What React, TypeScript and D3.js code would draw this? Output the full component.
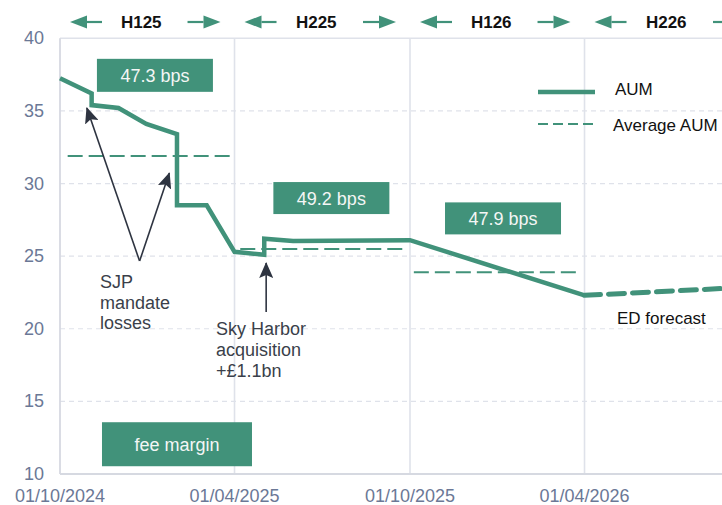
import React from "react";
import { scaleUtc, scaleLinear, line, utcFormat } from "d3";

// AUM (£bn) by date
const aumDates = [
  "2024-10-01", "2024-11-03", "2024-11-03", "2024-12-01", "2024-12-30",
  "2025-01-31", "2025-01-31", "2025-03-03", "2025-04-01", "2025-05-02",
  "2025-05-02", "2025-06-01", "2025-10-01", "2026-04-01",
];
const aumValues = [
  37.25, 36.2, 35.4, 35.2, 34.1, 33.4, 28.5, 28.5, 25.3, 25.1, 26.2, 26.05, 26.1, 22.3,
];

const forecastDates = ["2026-04-01", "2026-10-01"];
const forecastValues = [22.3, 22.9];

// average AUM per half year
const avgStarts = ["2024-10-09", "2025-04-07", "2025-10-05"];
const avgEnds = ["2025-03-28", "2025-09-26", "2026-03-24"];
const avgValues = [31.9, 25.5, 23.9];

// fee margin boxes (centre date / value)
const marginLabels = ["47.3 bps", "49.2 bps", "47.9 bps", "fee margin"];
const marginDates = ["2025-01-08", "2025-07-11", "2026-01-06", "2025-01-31"];
const marginValues = [37.45, 29.0, 27.6, 12.05];
const marginWidths = [116, 116, 116, 150];
const marginHeights = [33, 32, 32, 44];

const halves = ["H125", "H225", "H126", "H226"];
const halfStarts = ["2024-10-01", "2025-04-01", "2025-10-01", "2026-04-01"];
const halfEnds = ["2025-04-01", "2025-10-01", "2026-04-01", "2026-10-01"];

const xTicks = ["2024-10-01", "2025-04-01", "2025-10-01", "2026-04-01"];
const yTicks = [10, 15, 20, 25, 30, 35, 40];

const GREEN = "#41927a";
const DARK = "#2e3441";
const GRID = "#dfe2ea";
const TICK = "#6b7896";

const d = (s: string) => new Date(s + "T00:00:00Z");

const W = 722;
const H = 505;

const x = scaleUtc().domain([d("2024-10-01"), d("2026-10-01")]).range([60, 760]);
const y = scaleLinear().domain([10, 40]).range([474, 38.3]);

const pathGen = line<[Date, number]>()
  .x((p) => x(p[0]))
  .y((p) => y(p[1]));

const fmt = utcFormat("%d/%m/%Y");

const Arrow = ({ x1, x2, yy }: { x1: number; x2: number; yy: number }) => {
  // x2 is the tip
  const dir = x2 > x1 ? 1 : -1;
  const head = 17;
  const base = x2 - dir * head;
  return (
    <g>
      <line x1={x1} x2={base} y1={yy} y2={yy} stroke={GREEN} strokeWidth={2.2} />
      <path d={`M${x2},${yy} L${base},${yy - 6.5} L${base},${yy + 6.5} Z`} fill={GREEN} />
    </g>
  );
};

export default function App() {
  const aum = aumDates.map((s, i) => [d(s), aumValues[i]] as [Date, number]);
  const fc = forecastDates.map((s, i) => [d(s), forecastValues[i]] as [Date, number]);

  const sjpBase: [number, number] = [x(d("2024-12-23")), y(24.66)];
  const sjpTips: [number, number][] = [
    [x(d("2024-10-29")), y(35.2)],
    [x(d("2025-01-23")), y(30.72)],
  ];
  const skyX = x(d("2025-05-04"));

  return (
    <svg
      width={W}
      height={H}
      style={{ position: "absolute", left: 0, top: 0, fontFamily: "Liberation Sans, Arial, sans-serif" }}
    >
      <defs>
        <marker
          id="tip"
          viewBox="0 0 16 14"
          refX={15}
          refY={7}
          markerWidth={16}
          markerHeight={14}
          markerUnits="userSpaceOnUse"
          orient="auto"
        >
          <path d="M0,0 L16,7 L0,14 L3,7 Z" fill={DARK} />
        </marker>
      </defs>

      {/* grid */}
      {yTicks.slice(1, -1).map((t) => (
        <line key={t} x1={60} x2={W} y1={y(t)} y2={y(t)} stroke={GRID} strokeWidth={1.2} strokeDasharray="5,4" />
      ))}
      <line x1={60} x2={W} y1={y(40)} y2={y(40)} stroke={GRID} strokeWidth={1.5} />
      {xTicks.slice(1).map((t) => (
        <line key={t} x1={x(d(t))} x2={x(d(t))} y1={y(40)} y2={y(10)} stroke={GRID} strokeWidth={1.6} />
      ))}
      <line x1={60} x2={60} y1={y(40)} y2={y(10)} stroke="#d6d9e1" strokeWidth={1.8} />
      <line x1={60} x2={W} y1={y(10)} y2={y(10)} stroke="#d6d9e1" strokeWidth={2.2} />

      {/* ticks */}
      {yTicks.map((t) => (
        <text key={t} x={44} y={y(t) + 6} textAnchor="end" fontSize={18} fill={TICK}>
          {t}
        </text>
      ))}
      {xTicks.map((t) => (
        <text key={t} x={x(d(t))} y={502} textAnchor="middle" fontSize={18} fill={TICK}>
          {fmt(d(t))}
        </text>
      ))}

      {/* half-year headers */}
      {halves.map((h, i) => {
        const x0 = x(d(halfStarts[i]));
        const x1 = x(d(halfEnds[i]));
        return (
          <g key={h}>
            <Arrow x1={x0 + 42} x2={x0 + 10} yy={22} />
            <Arrow x1={x1 - 47} x2={x1 - 14} yy={22} />
            <text x={(x0 + x1) / 2 - 6} y={28} textAnchor="middle" fontSize={17} fontWeight="bold" fill="#111">
              {h}
            </text>
          </g>
        );
      })}

      {/* average AUM */}
      {avgValues.map((v, i) => (
        <line
          key={i}
          x1={x(d(avgStarts[i]))}
          x2={x(d(avgEnds[i]))}
          y1={y(v)}
          y2={y(v)}
          stroke={GREEN}
          strokeWidth={2}
          strokeDasharray="15,6"
        />
      ))}

      {/* AUM line */}
      <path d={pathGen(aum) || ""} fill="none" stroke={GREEN} strokeWidth={4.5} strokeLinejoin="miter" />
      <path
        d={pathGen(fc) || ""}
        fill="none"
        stroke={GREEN}
        strokeWidth={5}
        strokeDasharray="16,8"
        strokeLinecap="round"
      />

      {/* fee margin boxes */}
      {marginLabels.map((lab, i) => {
        const cx = x(d(marginDates[i]));
        const cy = y(marginValues[i]);
        return (
          <g key={lab}>
            <rect
              x={cx - marginWidths[i] / 2}
              y={cy - marginHeights[i] / 2}
              width={marginWidths[i]}
              height={marginHeights[i]}
              fill={GREEN}
            />
            <text x={cx} y={cy + 6.5} textAnchor="middle" fontSize={18} fill="#f4f6f5">
              {lab}
            </text>
          </g>
        );
      })}

      {/* annotations */}
      {sjpTips.map((tp, i) => (
        <line
          key={i}
          x1={sjpBase[0]}
          y1={sjpBase[1]}
          x2={tp[0]}
          y2={tp[1]}
          stroke={DARK}
          strokeWidth={1.6}
          markerEnd="url(#tip)"
        />
      ))}
      <text fontSize={18} fill="#3a3f4a">
        <tspan x={100} y={288}>SJP</tspan>
        <tspan x={100} y={309}>mandate</tspan>
        <tspan x={100} y={329}>losses</tspan>
      </text>
      <line x1={skyX} x2={skyX} y1={312} y2={263} stroke={DARK} strokeWidth={1.6} markerEnd="url(#tip)" />
      <text fontSize={18} fill="#3a3f4a">
        <tspan x={216} y={335}>Sky Harbor</tspan>
        <tspan x={216} y={356}>acquisition</tspan>
        <tspan x={216} y={377}>+£1.1bn</tspan>
      </text>

      {/* legend */}
      <line x1={538} x2={595} y1={92} y2={92} stroke={GREEN} strokeWidth={4.5} />
      <text x={615} y={95} fontSize={17} fill="#111">AUM</text>
      <line x1={538} x2={595} y1={124} y2={124} stroke={GREEN} strokeWidth={2} strokeDasharray="10,5" />
      <text x={613} y={131} fontSize={17} fill="#111">Average AUM</text>
      <text x={617} y={324} fontSize={17} fill="#111">ED forecast</text>
    </svg>
  );
}
